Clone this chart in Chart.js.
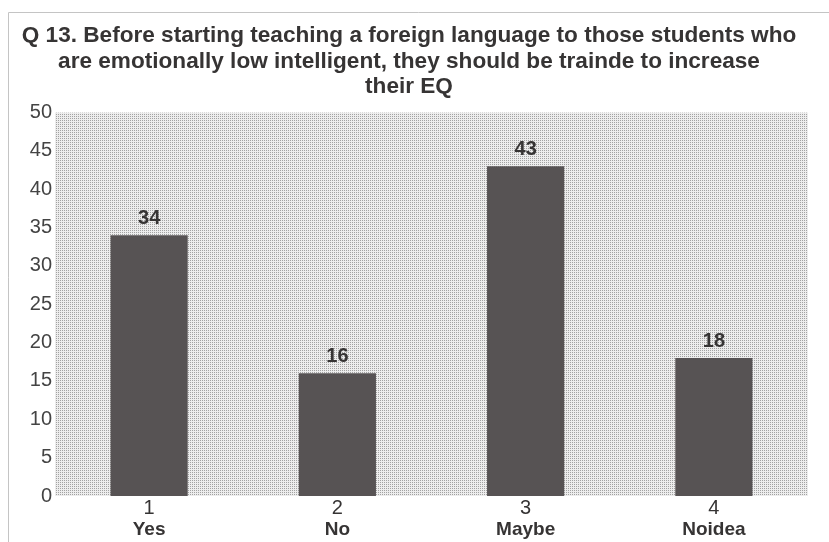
<!DOCTYPE html>
<html>
<head>
<meta charset="utf-8">
<script src="https://cdn.jsdelivr.net/npm/chart.js@4.4.0/dist/chart.umd.min.js"></script>
<style>
  html, body { margin: 0; padding: 0; background: #fff; }
  #wrap { width: 829px; height: 542px; }
</style>
</head>
<body>
<div id="wrap"><canvas id="q13Chart" width="829" height="542"></canvas></div>
<script>
const titleLines = [
  'Q 13. Before starting teaching a foreign language to those students who',
  'are emotionally low intelligent, they should be trainde to increase',
  'their EQ'
];
const codes = ['1', '2', '3', '4'];
const answers = ['Yes', 'No', 'Maybe', 'Noidea'];
const counts = [34, 16, 43, 18];
const yTicks = [0, 5, 10, 15, 20, 25, 30, 35, 40, 45, 50];

const INK = '#363434';
const BAR = '#575354';
const FONT = '"Liberation Sans", Arial, sans-serif';

// stippled plot background like the scanned original
function makeStipple(ctx) {
  const c = document.createElement('canvas');
  c.width = 2; c.height = 2;
  const g = c.getContext('2d');
  g.fillStyle = '#ededed';
  g.fillRect(0, 0, 2, 2);
  g.fillStyle = '#a2a2a2';
  g.fillRect(0, 0, 1, 1);
  return ctx.createPattern(c, 'repeat');
}

const backdrop = {
  id: 'backdrop',
  beforeDraw(chart) {
    const { ctx, chartArea: a } = chart;
    ctx.save();
    ctx.strokeStyle = '#c4c4c4';
    ctx.lineWidth = 1;
    ctx.beginPath();
    ctx.moveTo(8.5, 560);
    ctx.lineTo(8.5, 12.5);
    ctx.lineTo(829, 12.5);
    ctx.stroke();
    ctx.fillStyle = makeStipple(ctx);
    ctx.fillRect(a.left, a.top, a.right - a.left, a.bottom - a.top);
    ctx.restore();
  }
};

const valueLabels = {
  id: 'valueLabels',
  afterDatasetsDraw(chart) {
    const { ctx } = chart;
    const meta = chart.getDatasetMeta(0);
    ctx.save();
    ctx.font = 'bold 20px ' + FONT;
    ctx.fillStyle = INK;
    ctx.textAlign = 'center';
    ctx.textBaseline = 'alphabetic';
    meta.data.forEach((bar, i) => {
      ctx.fillText(String(counts[i]), bar.x, bar.y - 11);
    });
    ctx.restore();
  }
};

new Chart(document.getElementById('q13Chart'), {
  type: 'bar',
  data: {
    labels: codes,
    datasets: [{
      data: counts,
      backgroundColor: BAR,
      borderWidth: 0,
      categoryPercentage: 1,
      barPercentage: 0.41
    }]
  },
  options: {
    responsive: false,
    animation: false,
    layout: { padding: { left: 10, right: 21, top: 8, bottom: 3 } },
    plugins: {
      legend: { display: false },
      tooltip: { enabled: false },
      title: {
        display: true,
        text: titleLines,
        color: INK,
        font: { family: FONT, size: 22.6, weight: 'bold', lineHeight: 1.13 },
        padding: { top: 15, bottom: 13 }
      }
    },
    scales: {
      x: {
        grid: { display: false, drawTicks: false },
        border: { display: false },
        ticks: {
          color: INK,
          padding: 2,
          font: { family: FONT, size: 20, lineHeight: 1 }
        }
      },
      x2: {
        type: 'category',
        labels: answers,
        position: 'bottom',
        grid: { display: false, drawTicks: false },
        border: { display: false },
        ticks: {
          color: INK,
          padding: 0,
          font: { family: FONT, size: 19, weight: 'bold', lineHeight: 1 }
        }
      },
      y: {
        min: 0,
        max: 50,
        afterBuildTicks: s => { s.ticks = yTicks.map(v => ({ value: v })); },
        afterFit: s => { s.width = 45; },
        grid: { display: false, drawTicks: false },
        border: { display: false },
        ticks: {
          color: '#444',
          padding: 3,
          font: { family: FONT, size: 20 }
        }
      }
    }
  },
  plugins: [backdrop, valueLabels]
});
</script>
</body>
</html>
